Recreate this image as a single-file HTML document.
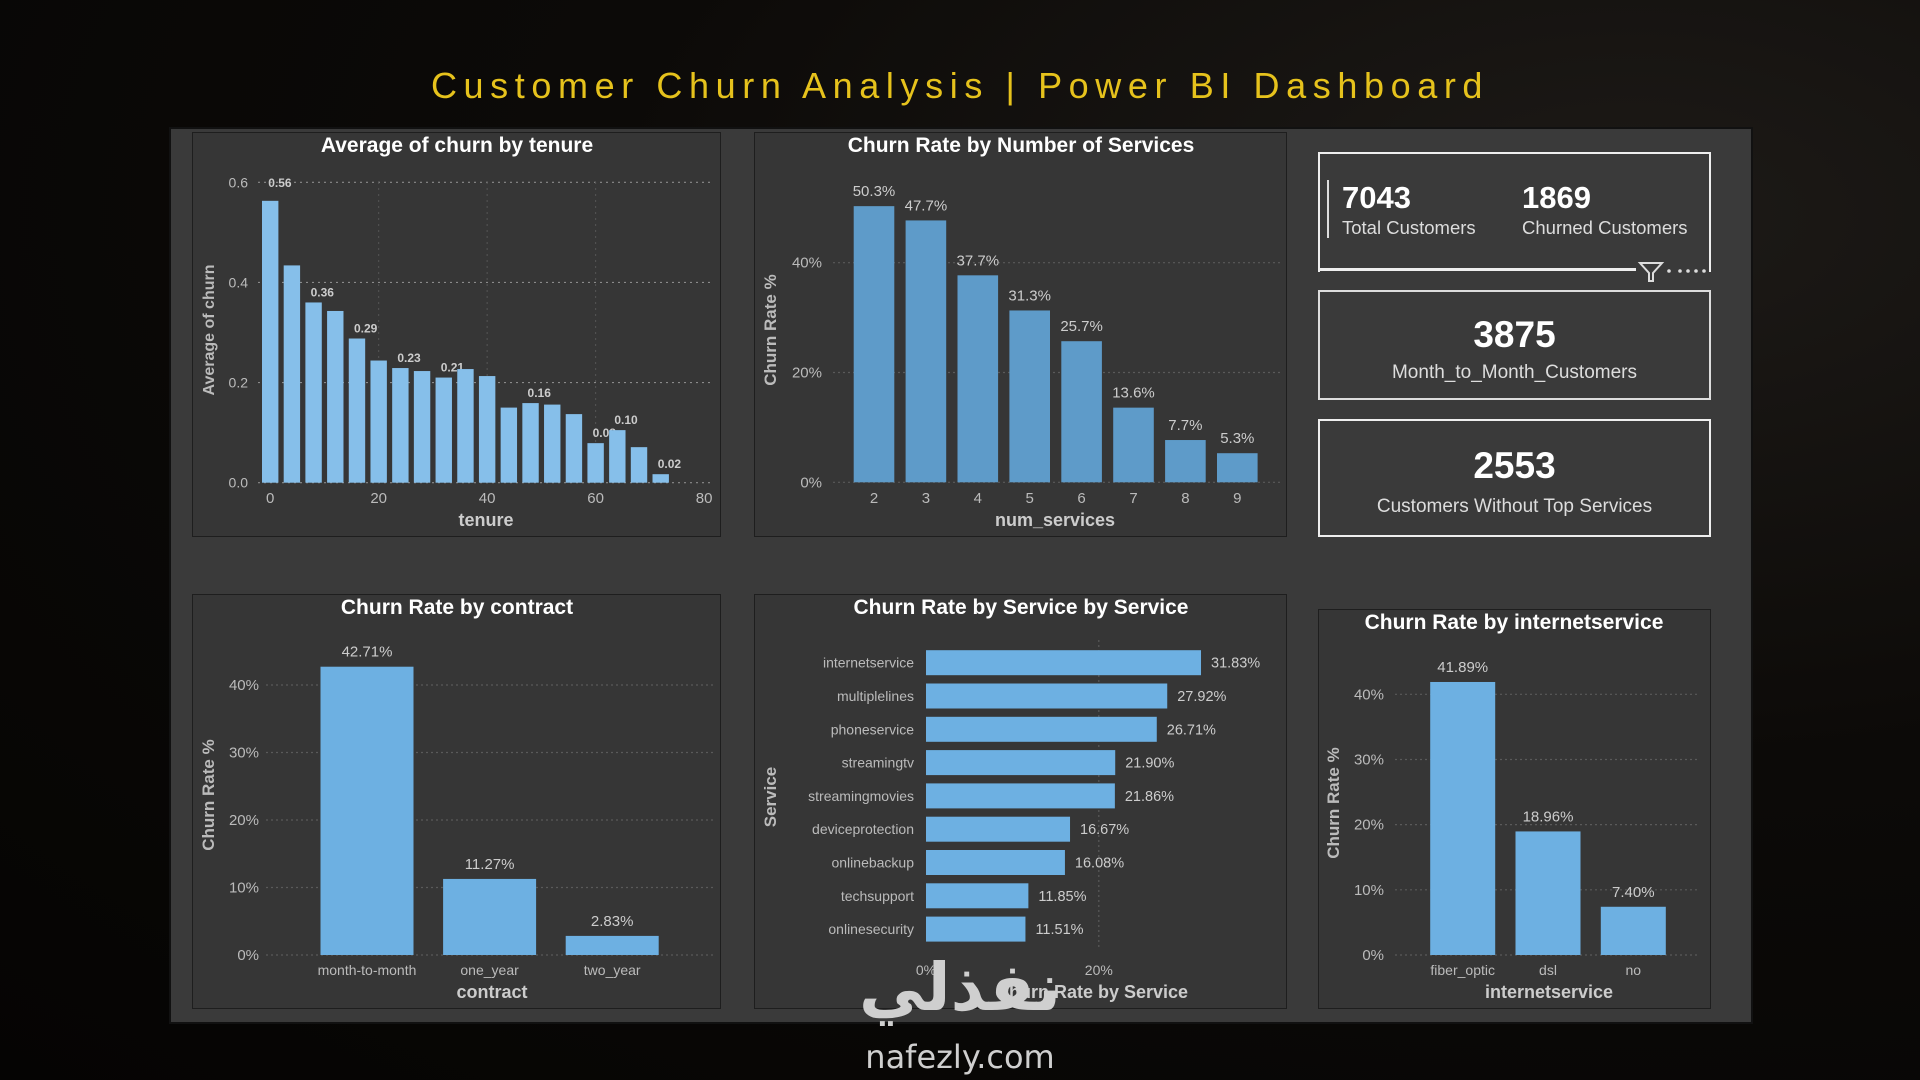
<!DOCTYPE html>
<html><head><meta charset="utf-8">
<style>
html,body{margin:0;padding:0;}
body{width:1920px;height:1080px;overflow:hidden;position:relative;font-family:"Liberation Sans",sans-serif;
background:radial-gradient(ellipse at 85% 20%,#1d1a17 0%,#0c0a08 45%,#050403 100%);}
.abs{position:absolute;}
#title{left:0;width:1920px;top:65px;text-align:center;color:#e6c21c;font-size:36px;letter-spacing:6.6px;font-weight:normal;}
#board{left:169px;top:127px;width:1584px;height:897px;background:#3a3a3a;border:2px solid #111;box-sizing:border-box;}
.panel{background:#363636;border:1.5px solid #1e1e1e;box-sizing:border-box;}
.kpi{border:2.5px solid #eee;box-sizing:border-box;color:#fff;}
</style></head>
<body>
<div class="abs" id="title">Customer Churn Analysis | Power BI Dashboard</div>
<div class="abs" id="board"></div>
<div class="abs panel" style="left:192px;top:132px;width:529px;height:405px"></div>
<div class="abs panel" style="left:754px;top:132px;width:533px;height:405px"></div>
<div class="abs panel" style="left:192px;top:594px;width:529px;height:415px"></div>
<div class="abs panel" style="left:754px;top:594px;width:533px;height:415px"></div>
<div class="abs panel" style="left:1318px;top:609px;width:393px;height:400px"></div>

<div class="abs kpi" style="left:1318px;top:152px;width:393px;height:120px;border-bottom:none;">
  <div class="abs" style="left:7px;top:26px;width:2px;height:58px;background:#ddd"></div>
  <div class="abs" style="left:22px;top:26px;font-size:31px;font-weight:bold">7043</div>
  <div class="abs" style="left:22px;top:63px;font-size:18.5px;color:#ddd">Total Customers</div>
  <div class="abs" style="left:202px;top:26px;font-size:31px;font-weight:bold">1869</div>
  <div class="abs" style="left:202px;top:63px;font-size:18.5px;color:#ddd">Churned Customers</div>
</div>
<div class="abs" style="left:1318px;top:268px;width:318px;height:2.5px;background:#eee"></div>
<svg class="abs" style="left:1636px;top:259px" width="80" height="24">
  <path d="M4 4 H26 L17 14 V22 H13 V14 Z" fill="none" stroke="#ddd" stroke-width="2"/>
  <circle cx="33" cy="12" r="1.8" fill="#ddd"/><circle cx="44" cy="12" r="1.8" fill="#ddd"/><circle cx="52" cy="12" r="1.8" fill="#ddd"/><circle cx="60" cy="12" r="1.8" fill="#ddd"/><circle cx="68" cy="12" r="1.8" fill="#ddd"/>
</svg>
<div class="abs kpi" style="left:1318px;top:290px;width:393px;height:110px;border-color:#ddd">
  <div class="abs" style="left:0;width:100%;top:22px;text-align:center;font-size:37px;font-weight:bold">3875</div>
  <div class="abs" style="left:0;width:100%;top:70px;text-align:center;font-size:19px;color:#ddd">Month_to_Month_Customers</div>
</div>
<div class="abs kpi" style="left:1318px;top:419px;width:393px;height:118px">
  <div class="abs" style="left:0;width:100%;top:24px;text-align:center;font-size:37px;font-weight:bold">2553</div>
  <div class="abs" style="left:0;width:100%;top:75px;text-align:center;font-size:19px;color:#ddd">Customers Without Top Services</div>
</div>

<svg id="charts" class="abs" style="left:0;top:0" width="1920" height="1080"></svg>

<div class="abs" style="left:845px;top:948px;width:230px;text-align:center;font-family:'DejaVu Sans',sans-serif;font-size:66px;font-weight:bold;color:#cfcfcf;line-height:80px">نفذلي</div>
<div class="abs" style="left:845px;top:1038px;width:230px;text-align:center;font-family:'DejaVu Sans',sans-serif;font-size:32px;color:#cfcfcf">nafezly.com</div>

<script>
// ---- tenure chart data ----
const tenureX = [0,4,8,12,16,20,24,28,32,36,40,44,48,52,56,60,64,68,72];
const tenureVals = [0.563,0.434,0.36,0.343,0.288,0.244,0.229,0.223,0.21,0.227,0.213,0.15,0.159,0.156,0.137,0.079,0.105,0.071,0.017];
const tenureLabels = ["0.56","","0.36","","0.29","","0.23","","0.21","","","","0.16","","","0.08","0.10","","0.02"];
const tenureYTicks = [0,0.2,0.4,0.6];
const tenureXTicks = [0,20,40,60,80];
// ---- services chart data ----
const svcCats = ["2","3","4","5","6","7","8","9"];
const svcVals = [50.3,47.7,37.7,31.3,25.7,13.6,7.7,5.3];
const svcYTicks = [0,20,40];
// ---- contract chart data ----
const contractCats = ["month-to-month","one_year","two_year"];
const contractVals = [42.71,11.27,2.83];
const contractYTicks = [0,10,20,30,40];
// ---- service-by-service data ----
const serviceCats = ["internetservice","multiplelines","phoneservice","streamingtv","streamingmovies","deviceprotection","onlinebackup","techsupport","onlinesecurity"];
const serviceVals = [31.83,27.92,26.71,21.90,21.86,16.67,16.08,11.85,11.51];
const serviceXTicks = [0,20];
// ---- internet service data ----
const inetCats = ["fiber_optic","dsl","no"];
const inetVals = [41.89,18.96,7.40];
const inetYTicks = [0,10,20,30,40];

const NS="http://www.w3.org/2000/svg";
const svg=document.getElementById('charts');
function el(tag,attrs,parent){const e=document.createElementNS(NS,tag);for(const k in attrs)e.setAttribute(k,attrs[k]);(parent||svg).appendChild(e);return e;}
function txt(s,attrs,parent){const e=el('text',Object.assign({'font-family':'Liberation Sans, sans-serif'},attrs),parent);e.textContent=s;return e;}
function lin(d0,d1,r0,r1){return v=>r0+(v-d0)*(r1-r0)/(d1-d0);}

function title(s,cx,y,name){const t=txt(s,{x:cx,y:y,'text-anchor':'middle','font-size':21,'font-weight':'bold',fill:'#fff'});

}

// ===== Tenure chart =====
(function(){
 const g=el('g',{});
 
 
 const x=lin(0,80,270.2,704.1), y=lin(0,0.6,482.7,182.3);
 title('Average of churn by tenure',457,152,'tenure-chart-title');
 tenureYTicks.forEach(t=>{
  const l=el('line',{x1:258,x2:713,y1:y(t),y2:y(t),stroke:'#8a8a8a','stroke-width':1.2,'stroke-dasharray':'2,4'},g);
  
  
  const s=txt(t.toFixed(1),{x:248,y:y(t)+5,'text-anchor':'end','font-size':14,fill:'#bbb'},g);
  
  
 });
 tenureXTicks.forEach(t=>{
  if(t>0&&t<80){const l=el('line',{x1:x(t),x2:x(t),y1:182,y2:483,stroke:'#555','stroke-width':1,'stroke-dasharray':'2,4'},g);
  
  }
  const s=txt(String(t),{x:x(t),y:503,'text-anchor':'middle','font-size':15,fill:'#bbb'},g);
  
  
 });
 tenureX.forEach((t,i)=>{
  const r=el('rect',{x:x(t)-8.2,y:y(tenureVals[i]),width:16.4,height:y(0)-y(tenureVals[i]),fill:'#86bfea'},g);
  
  
  if(tenureLabels[i]){const s=txt(tenureLabels[i],{x:x(t)+ (i===0?-2:-3),y:y(tenureVals[i])-(i===0?14:6),'font-size':12,'font-weight':'bold',fill:'#ccc'},g);
   
   }
 });
 const xt=txt('tenure',{x:486,y:526,'text-anchor':'middle','font-size':18,'font-weight':'bold',fill:'#ccc'},g);
 
 
 const yt=txt('Average of churn',{x:0,y:0,'text-anchor':'middle','font-size':16,'font-weight':'bold',fill:'#bbb',transform:'translate(214,330) rotate(-90)'},g);
 
 
})();

// ===== Generic vertical bar chart =====
function vbar(o){
 const g=el('g',{});
 
 
 const y=lin(0,o.topTick,o.y0,o.yTop);
 title(o.title,o.titleX,o.titleY,o.name+'-title');
 o.yTicks.forEach(t=>{
  const l=el('line',{x1:o.gx0,x2:o.gx1,y1:y(t),y2:y(t),stroke:'#5a5a5a','stroke-width':1.2,'stroke-dasharray':'2,3'},g);
  
  
  const s=txt(t+'%',{x:o.tickX,y:y(t)+5,'text-anchor':'end','font-size':15,fill:'#bbb'},g);
  
  
 });
 o.cats.forEach((c,i)=>{
  const cx=o.cx0+i*o.step, v=o.vals[i];
  const r=el('rect',{x:cx-o.bw/2,y:y(v),width:o.bw,height:o.y0-y(v),fill:o.color},g);
  
  
  const s=txt(v.toFixed(o.dec)+'%',{x:cx,y:y(v)-10,'text-anchor':'middle','font-size':15,fill:'#ccc'},g);
  
  
  const cl=txt(c,{x:cx,y:o.catY,'text-anchor':'middle','font-size':o.catSize,fill:'#bbb'},g);
  
  
 });
 const xt=txt(o.xTitle,{x:o.xTitleX,y:o.xTitleY,'text-anchor':'middle','font-size':18,'font-weight':'bold',fill:'#ccc'},g);
 
 
 const yt=txt('Churn Rate %',{x:0,y:0,'text-anchor':'middle','font-size':17,'font-weight':'bold',fill:'#bbb',transform:'translate('+o.yTitleX+','+o.yTitleY+') rotate(-90)'},g);
 
 
}
vbar({name:'services-chart',title:'Churn Rate by Number of Services',titleX:1021,titleY:152,cats:svcCats,vals:svcVals,yTicks:svcYTicks,
 topTick:40,y0:482.3,yTop:262.7,gx0:833,gx1:1280,tickX:822,cx0:874,step:51.9,bw:40.6,color:'#5e9bc9',dec:1,catY:503,catSize:15,
 xTitle:'num_services',xTitleX:1055,xTitleY:526,yTitleX:776,yTitleY:330});
vbar({name:'contract-chart',title:'Churn Rate by contract',titleX:457,titleY:614,cats:contractCats,vals:contractVals,yTicks:contractYTicks,
 topTick:40,y0:955,yTop:685,gx0:266,gx1:713,tickX:259,cx0:367,step:122.6,bw:93,color:'#6db0e2',dec:2,catY:975,catSize:14,
 xTitle:'contract',xTitleX:492,xTitleY:998,yTitleX:214,yTitleY:795});
vbar({name:'internet-chart',title:'Churn Rate by internetservice',titleX:1514,titleY:629,cats:inetCats,vals:inetVals,yTicks:inetYTicks,
 topTick:40,y0:955,yTop:694.3,gx0:1395,gx1:1700,tickX:1384,cx0:1462.7,step:85.3,bw:65,color:'#6db0e2',dec:2,catY:975,catSize:14,
 xTitle:'internetservice',xTitleX:1549,xTitleY:998,yTitleX:1339,yTitleY:803});

// ===== Horizontal service chart =====
(function(){
 const g=el('g',{});
 
 
 const x=lin(0,20,926,1098.8);
 title('Churn Rate by Service by Service',1021,614,'service-chart-title');
 serviceXTicks.forEach(t=>{
  if(t>0){const l=el('line',{x1:x(t),x2:x(t),y1:640,y2:950,stroke:'#5a5a5a','stroke-width':1.2,'stroke-dasharray':'2,3'},g);
  
  }
  const s=txt(t+'%',{x:x(t),y:975,'text-anchor':'middle','font-size':14,fill:'#bbb'},g);
  
  
 });
 serviceCats.forEach((c,i)=>{
  const cy=662.7+i*33.3, v=serviceVals[i];
  const r=el('rect',{x:x(0),y:cy-12.5,width:x(v)-x(0),height:25,fill:'#6db0e2'},g);
  
  
  const s=txt(v.toFixed(2)+'%',{x:x(v)+10,y:cy+5,'font-size':14.5,fill:'#ccc'},g);
  
  
  const cl=txt(c,{x:914,y:cy+5,'text-anchor':'end','font-size':14,fill:'#bbb'},g);
  
  
 });
 const xt=txt('Churn Rate by Service',{x:1092,y:998,'text-anchor':'middle','font-size':18,'font-weight':'bold',fill:'#ccc'},g);
 
 
 const yt=txt('Service',{x:0,y:0,'text-anchor':'middle','font-size':17,'font-weight':'bold',fill:'#bbb',transform:'translate(776,797) rotate(-90)'},g);
 
 
})();
</script>
</body></html>
